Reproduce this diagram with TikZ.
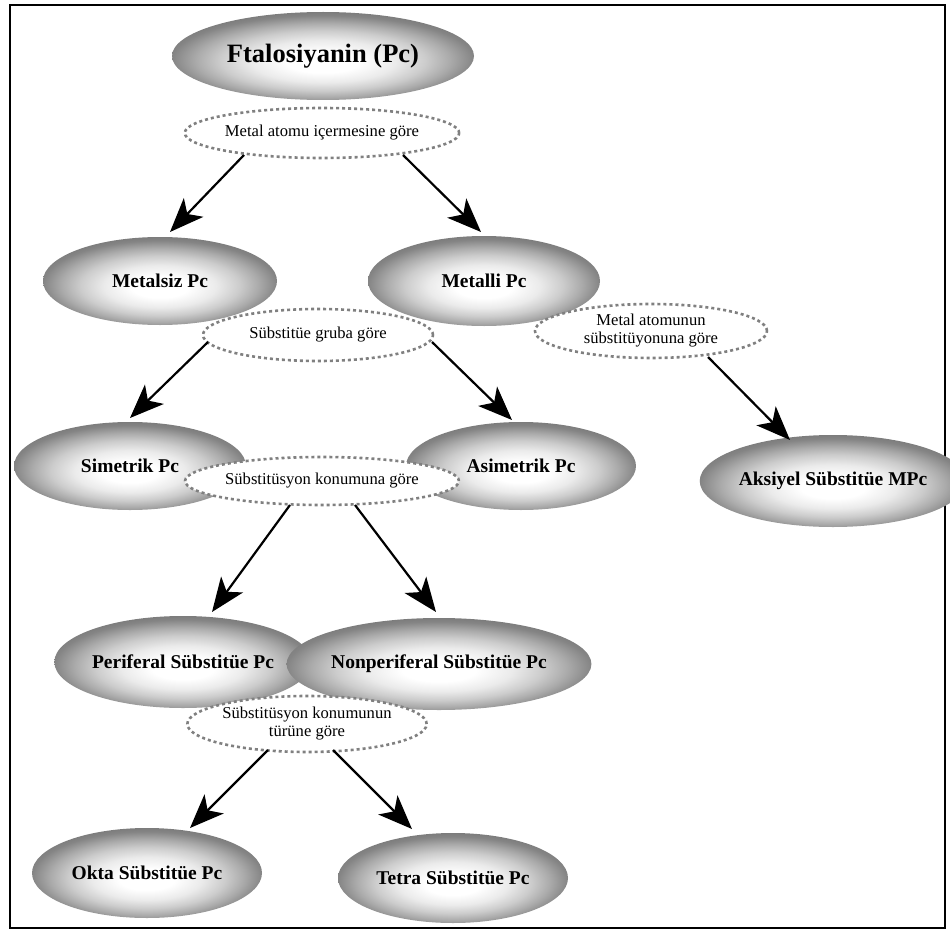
\documentclass[tikz,border=0pt]{standalone}
\usepackage{fontspec}
\setmainfont{Liberation Serif}
\usetikzlibrary{arrows.meta,shapes.geometric}
\pgfdeclareradialshading{ballgray}{\pgfpoint{0bp}{-4bp}}{%
color(0bp)=(white); color(6bp)=(white); color(12bp)=(black!8);
color(17bp)=(black!20); color(21bp)=(black!33); color(25bp)=(black!48); color(29bp)=(black!55); color(50bp)=(black!58)}
\tikzset{
  ball/.style={ellipse, shading=ballgray, inner sep=0pt, minimum width=232pt, minimum height=90pt,
    font=\fontsize{19.5}{22}\selectfont\bfseries},
  lbl/.style={ellipse, draw=black!50, fill=white, line width=2.6pt, dash pattern=on 3pt off 3pt,
    inner sep=0pt, align=center, font=\fontsize{16.6}{18}\selectfont},
  arr/.style={line width=2.2pt, -{Stealth[length=34pt,width=27pt,inset=9pt]}}
}
\begin{document}
\begin{tikzpicture}[x=1pt,y=-1pt]
\useasboundingbox (0,0) rectangle (950,931);
\draw[line width=2.6pt] (10,5) rectangle (945,928);
% main nodes
\node[ball, minimum width=302pt, minimum height=88pt, font=\fontsize{26.5}{30}\selectfont\bfseries] (pc) at (323,56) {Ftalosiyanin (Pc)};
\node[ball, minimum width=234pt, minimum height=88pt] (metalsiz) at (160,281) {Metalsiz Pc};
\node[ball] (metalli) at (484,281) {Metalli Pc};
\node[ball, minimum height=88pt] (simetrik) at (130,466) {Simetrik Pc};
\node[ball, minimum width=230pt, minimum height=88pt] (asimetrik) at (521,466) {Asimetrik Pc};
\node[ball, minimum width=230pt, minimum height=92pt] (aksiyel) at (833,481) {Aksiyel Sübstitüe MPc};
\node[ball, minimum width=230pt, minimum height=92pt] (periferal) at (183,662) {Periferal Sübstitüe Pc};
\node[ball, minimum width=230pt, minimum height=92pt] (nonperiferal) at (439,664) {Nonperiferal Sübstitüe Pc};
\node[ball, minimum width=230pt] (okta) at (147,873) {Okta Sübstitüe Pc};
\node[ball, minimum width=230pt] (tetra) at (453,878) {Tetra Sübstitüe Pc};
% label ellipses
\node[lbl, minimum width=231pt, minimum height=50pt] (l1) at (322,133) {Metal atomu içermesine göre};
\node[lbl, minimum width=230pt, minimum height=52pt] (l2) at (318,335) {Sübstitüe gruba göre};
\node[lbl, minimum width=232pt, minimum height=54pt] (l3) at (651,331) {Metal atomunun\\sübstitüyonuna göre};
\node[lbl, minimum width=226pt, minimum height=48pt] (l4) at (322,481) {Sübstitüsyon konumuna göre};
\node[lbl, minimum width=230pt, minimum height=56pt] (l5) at (307,724) {Sübstitüsyon konumunun\\türüne göre};
% arrows
\draw[arr] ([shift={(-78,22)}]l1.center) -- ([shift={(10,-49)}]metalsiz.center);
\draw[arr] ([shift={(81,22)}]l1.center) -- ([shift={(-3,-49)}]metalli.center);
\draw[arr] ([shift={(-110,7)}]l2.center) -- ([shift={(0,-48)}]simetrik.center);
\draw[arr] ([shift={(114,7)}]l2.center) -- ([shift={(-9,-46)}]asimetrik.center);
\draw[arr] ([shift={(57,26)}]l3.center) -- ([shift={(-43,-41)}]aksiyel.center);
\draw[arr] ([shift={(-32,24)}]l4.center) -- ([shift={(29,-50)}]periferal.center);
\draw[arr] ([shift={(33,24)}]l4.center) -- ([shift={(-3,-52)}]nonperiferal.center);
\draw[arr] ([shift={(-39,26)}]l5.center) -- ([shift={(43,-45)}]okta.center);
\draw[arr] ([shift={(26,26)}]l5.center) -- ([shift={(-41,-49)}]tetra.center);
\end{tikzpicture}
\end{document}
